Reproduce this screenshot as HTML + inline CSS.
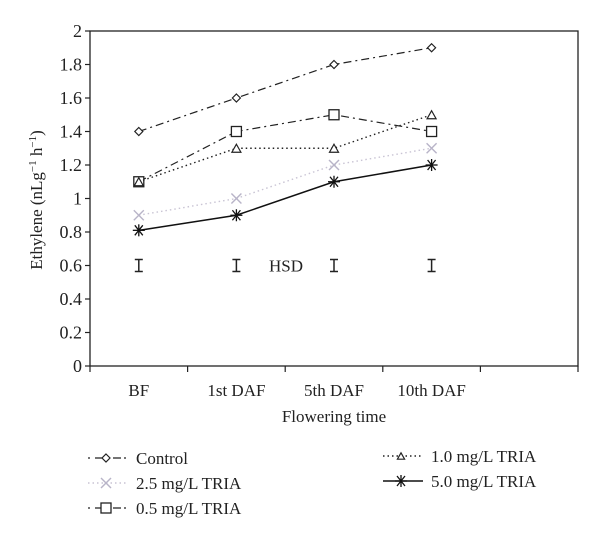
<!DOCTYPE html>
<html><head><meta charset="utf-8"><style>
html,body{margin:0;padding:0;background:#fff;}
svg text{font-family:"Liberation Serif",serif;fill:#222;}
</style></head><body>
<svg id="chart" width="600" height="542" xmlns="http://www.w3.org/2000/svg"></svg>
<script>
const categories=["BF","1st DAF","5th DAF","10th DAF"];
const controlVals=[1.4,1.6,1.8,1.9];
const tria05Vals=[1.1,1.4,1.5,1.4];
const tria10Vals=[1.1,1.3,1.3,1.5];
const tria25Vals=[0.9,1.0,1.2,1.3];
const tria50Vals=[0.81,0.9,1.1,1.2];
const hsdVals=[0.6,0.6,0.6,0.6];
const yTicks=[0,0.2,0.4,0.6,0.8,1,1.2,1.4,1.6,1.8,2];

const NS="http://www.w3.org/2000/svg";
const svg=document.getElementById('chart');
const L=90,R=578,T=31,B=366,slots=5;
const slotW=(R-L)/slots;
const x=i=>L+slotW*(i+0.5);
const y=v=>B-(v/2)*(B-T);
function mk(tag,attrs,parent){const e=document.createElementNS(NS,tag);for(const k in attrs)e.setAttribute(k,attrs[k]);(parent||svg).appendChild(e);return e;}

const frame=mk('rect',{x:L,y:T,width:R-L,height:B-T,fill:'none',stroke:'#222','stroke-width':1.3});


for(let i=0;i<=slots;i++){const t=mk('line',{x1:L+slotW*i,x2:L+slotW*i,y1:B,y2:B+6,stroke:'#222','stroke-width':1.2});

}
yTicks.forEach(v=>{
const t=mk('line',{x1:L-5,x2:L,y1:y(v),y2:y(v),stroke:'#222','stroke-width':1.2});


const tx=mk('text',{x:L-8,y:y(v)+6,'text-anchor':'end','font-size':18});tx.textContent=String(v);


});
categories.forEach((c,i)=>{const tx=mk('text',{x:x(i),y:396,'text-anchor':'middle','font-size':17});tx.textContent=c;

});
const xt=mk('text',{x:334,y:422,'text-anchor':'middle','font-size':17});xt.textContent='Flowering time';


const yt=mk('text',{x:0,y:0,'text-anchor':'middle','font-size':17,transform:'translate(42,200) rotate(-90)'});
yt.innerHTML='Ethylene (nLg<tspan font-size="11" dy="-6">−1</tspan><tspan dy="6"> h</tspan><tspan font-size="11" dy="-6">−1</tspan><tspan dy="6">)</tspan>';



hsdVals.forEach((v,i)=>{const g=mk('g',{stroke:'#222','stroke-width':1.5});


const cx=x(i);const h=6;
mk('line',{x1:cx,x2:cx,y1:y(v)-h,y2:y(v)+h},g);
mk('line',{x1:cx-4,x2:cx+4,y1:y(v)-h,y2:y(v)-h},g);
mk('line',{x1:cx-4,x2:cx+4,y1:y(v)+h,y2:y(v)+h},g);});
const hs=mk('text',{x:286,y:y(0.6)+6,'text-anchor':'middle','font-size':17});hs.textContent='HSD';



function marker(type,cx,cy,g,sc){sc=sc||1;
if(type==='diamond')mk('polygon',{points:`${cx},${cy-4*sc} ${cx+4*sc},${cy} ${cx},${cy+4*sc} ${cx-4*sc},${cy}`,fill:'#fff',stroke:'#222','stroke-width':1.2},g);
if(type==='square')mk('rect',{x:cx-5*sc,y:cy-5*sc,width:10*sc,height:10*sc,fill:'#fff',stroke:'#222','stroke-width':1.3},g);
if(type==='triangle')mk('polygon',{points:`${cx},${cy-4*sc} ${cx+4.5*sc},${cy+4*sc} ${cx-4.5*sc},${cy+4*sc}`,fill:'#fff',stroke:'#222','stroke-width':1.2},g);
if(type==='cross'){mk('line',{x1:cx-5*sc,y1:cy-5*sc,x2:cx+5*sc,y2:cy+5*sc,stroke:'#b8b4c8','stroke-width':1.4},g);mk('line',{x1:cx-5*sc,y1:cy+5*sc,x2:cx+5*sc,y2:cy-5*sc,stroke:'#b8b4c8','stroke-width':1.4},g);}
if(type==='star'){[[-6,0,6,0],[-4,-5,4,5],[-4,5,4,-5],[0,-6,0,6]].forEach(d=>{mk('line',{x1:cx+d[0]*sc,y1:cy+d[1]*sc,x2:cx+d[2]*sc,y2:cy+d[3]*sc,stroke:'#111','stroke-width':1.3},g);});}
}
const series=[
{name:'series-control',vals:controlVals,m:'diamond',dash:'8,4,2,4',col:'#222',w:1.2},
{name:'series-0-5-tria',vals:tria05Vals,m:'square',dash:'8,4,2,4',col:'#222',w:1.2},
{name:'series-1-0-tria',vals:tria10Vals,m:'triangle',dash:'1.5,3',col:'#222',w:1.4},
{name:'series-2-5-tria',vals:tria25Vals,m:'cross',dash:'1.5,3',col:'#c9c4d4',w:1.4},
{name:'series-5-0-tria',vals:tria50Vals,m:'star',dash:'',col:'#111',w:1.5}];
series.forEach(s=>{const g=mk('g',{});


mk('polyline',{points:s.vals.map((v,i)=>x(i)+','+y(v)).join(' '),fill:'none',stroke:s.col,'stroke-width':s.w,'stroke-dasharray':s.dash},g);
s.vals.forEach((v,i)=>marker(s.m,x(i),y(v),g));});

const legend=[
{t:'Control',s:0,x:88,y:458},{t:'2.5 mg/L TRIA',s:3,x:88,y:483},{t:'0.5 mg/L TRIA',s:1,x:88,y:508},
{t:'1.0 mg/L TRIA',s:2,x:383,y:456},{t:'5.0 mg/L TRIA',s:4,x:383,y:481}];
legend.forEach(e=>{const s=series[e.s];const g=mk('g',{});


mk('line',{x1:e.x,x2:e.x+40,y1:e.y,y2:e.y,stroke:s.col,'stroke-width':s.w,'stroke-dasharray':s.dash?(s.dash==='1.5,3'?'1.5,3':'2,5,8,3'):''},g);
marker(s.m,e.x+18,e.y,g,s.m==='triangle'?0.8:1);
const tx=mk('text',{x:e.x+48,y:e.y+6,'font-size':17},g);tx.textContent=e.t;});
</script>
</body></html>
